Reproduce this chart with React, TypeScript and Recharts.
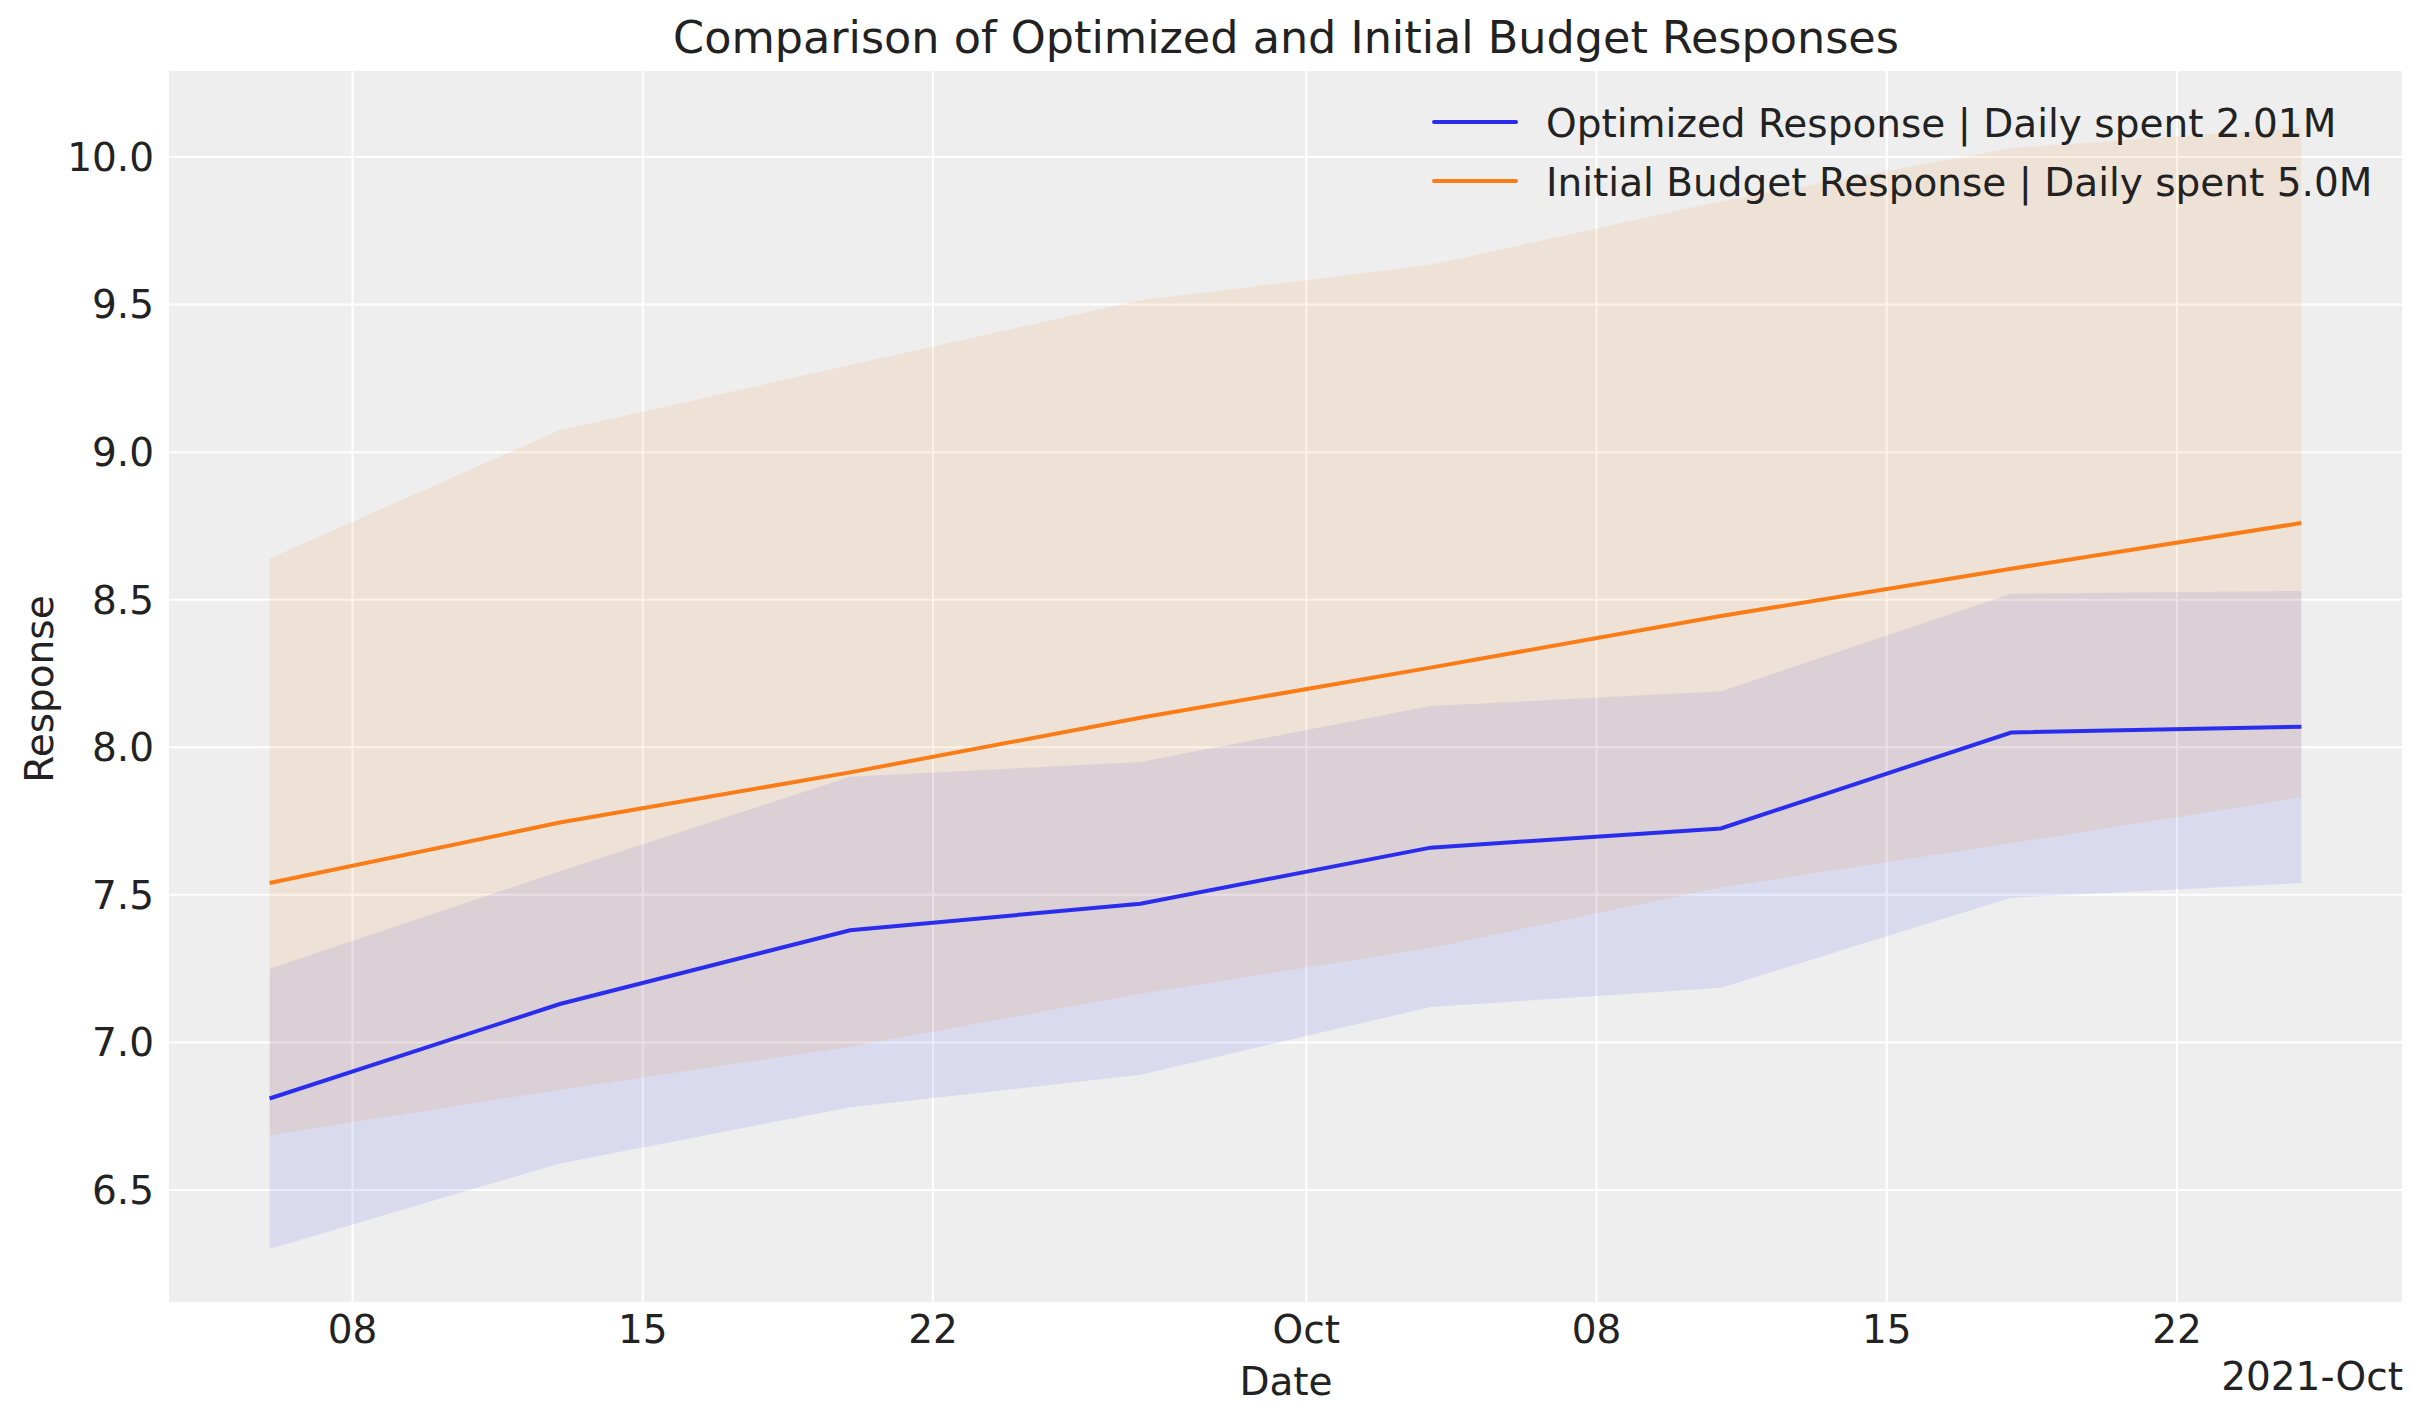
import React from "react"
import {
  ComposedChart,
  Area,
  Line,
  XAxis,
  YAxis,
  CartesianGrid,
} from "recharts"

// weekly dates of the forecast
const weekDates = [
  "2021-09-06",
  "2021-09-13",
  "2021-09-20",
  "2021-09-27",
  "2021-10-04",
  "2021-10-11",
  "2021-10-18",
  "2021-10-25",
]

const optimizedMean = [6.81, 7.13, 7.38, 7.47, 7.66, 7.725, 8.05, 8.07]
const optimizedLow = [6.3, 6.59, 6.78, 6.89, 7.12, 7.185, 7.49, 7.54]
const optimizedHigh = [7.25, 7.58, 7.9, 7.95, 8.14, 8.19, 8.52, 8.53]

const initialMean = [7.54, 7.745, 7.915, 8.1, 8.27, 8.445, 8.605, 8.76]
const initialLow = [6.685, 6.84, 6.985, 7.165, 7.32, 7.525, 7.675, 7.83]
const initialHigh = [8.64, 9.075, 9.295, 9.515, 9.635, 9.85, 10.03, 10.1]

// x ticks (dates) and their concise labels
const xTickDates = [
  "2021-09-08",
  "2021-09-15",
  "2021-09-22",
  "2021-10-01",
  "2021-10-08",
  "2021-10-15",
  "2021-10-22",
]
const xTickLabels = ["08", "15", "22", "Oct", "08", "15", "22"]
const yTicks = [6.5, 7.0, 7.5, 8.0, 8.5, 9.0, 9.5, 10.0]

const seriesNames = [
  "Optimized Response | Daily spent 2.01M",
  "Initial Budget Response | Daily spent 5.0M",
]

const BLUE = "#2a2eec"
const ORANGE = "#fa7c17"
const TEXT = "#222222"
const FONT = "DejaVu Sans"

const DAY = 24 * 3600 * 1000
const origin = Date.UTC(2021, 8, 6)
const toDay = (s: string) => {
  const [y, m, d] = s.split("-").map(Number)
  return (Date.UTC(y, m - 1, d) - origin) / DAY
}

const data = weekDates.map((d, i) => ({
  day: toDay(d),
  optMean: optimizedMean[i],
  optBand: [optimizedLow[i], optimizedHigh[i]],
  initMean: initialMean[i],
  initBand: [initialLow[i], initialHigh[i]],
}))

const xTicks = xTickDates.map(toDay)
const tickLabel = (v: number) => {
  const i = xTicks.indexOf(v)
  return i >= 0 ? xTickLabels[i] : ""
}

const W = 2423
const H = 1423

export default function App() {
  const tickStyle = { fill: TEXT, fontSize: 39, fontFamily: FONT }
  return (
    <div style={{ position: "absolute", left: 0, top: 0, width: W, height: H, background: "#fff" }}>
      <ComposedChart
        width={W}
        height={H}
        data={data}
        margin={{ top: 70, right: 20, bottom: 0, left: 0 }}
      >
        <CartesianGrid fill="#eeeeee" stroke="#ffffff" strokeWidth={2} />
        <XAxis
          dataKey="day"
          type="number"
          domain={[-2.45, 51.45]}
          allowDataOverflow
          ticks={xTicks}
          interval={0}
          tickFormatter={tickLabel}
          axisLine={false}
          tickLine={false}
          tickSize={0}
          tickMargin={12}
          height={120}
          tick={tickStyle}
        />
        <YAxis
          type="number"
          domain={[6.117, 10.295]}
          allowDataOverflow
          ticks={yTicks}
          interval={0}
          tickFormatter={(v: number) => v.toFixed(1)}
          axisLine={false}
          tickLine={false}
          tickSize={0}
          tickMargin={14}
          width={168}
          tick={tickStyle}
        />
        <Area
          dataKey="optBand"
          type="linear"
          stroke="none"
          fill={BLUE}
          fillOpacity={0.1}
          isAnimationActive={false}
          dot={false}
          activeDot={false}
        />
        <Area
          dataKey="initBand"
          type="linear"
          stroke="none"
          fill={ORANGE}
          fillOpacity={0.1}
          isAnimationActive={false}
          dot={false}
          activeDot={false}
        />
        <Line
          dataKey="optMean"
          type="linear"
          stroke={BLUE}
          strokeWidth={4}
          dot={false}
          activeDot={false}
          isAnimationActive={false}
        />
        <Line
          dataKey="initMean"
          type="linear"
          stroke={ORANGE}
          strokeWidth={4}
          dot={false}
          activeDot={false}
          isAnimationActive={false}
        />
      </ComposedChart>

      {/* title, axis labels, offset text and legend */}
      <svg
        width={W}
        height={H}
        style={{ position: "absolute", left: 0, top: 0, pointerEvents: "none" }}
        fontFamily={FONT}
        fill={TEXT}
      >
        <text x={1286} y={53} fontSize={44.5} textAnchor="middle">
          Comparison of Optimized and Initial Budget Responses
        </text>
        <text x={1286} y={1395} fontSize={39} textAnchor="middle">
          Date
        </text>
        <text x={2403} y={1390} fontSize={39} textAnchor="end">
          2021-Oct
        </text>
        <text
          x={53}
          y={689}
          fontSize={39}
          textAnchor="middle"
          transform="rotate(-90 53 689)"
        >
          Response
        </text>
        {seriesNames.map((name, i) => {
          const y = 122 + i * 59
          return (
            <g key={name}>
              <line
                x1={1434}
                x2={1516}
                y1={y}
                y2={y}
                stroke={i === 0 ? BLUE : ORANGE}
                strokeWidth={4}
                strokeLinecap="round"
              />
              <text x={1546} y={y + 15} fontSize={39}>
                {name}
              </text>
            </g>
          )
        })}
      </svg>
    </div>
  )
}
